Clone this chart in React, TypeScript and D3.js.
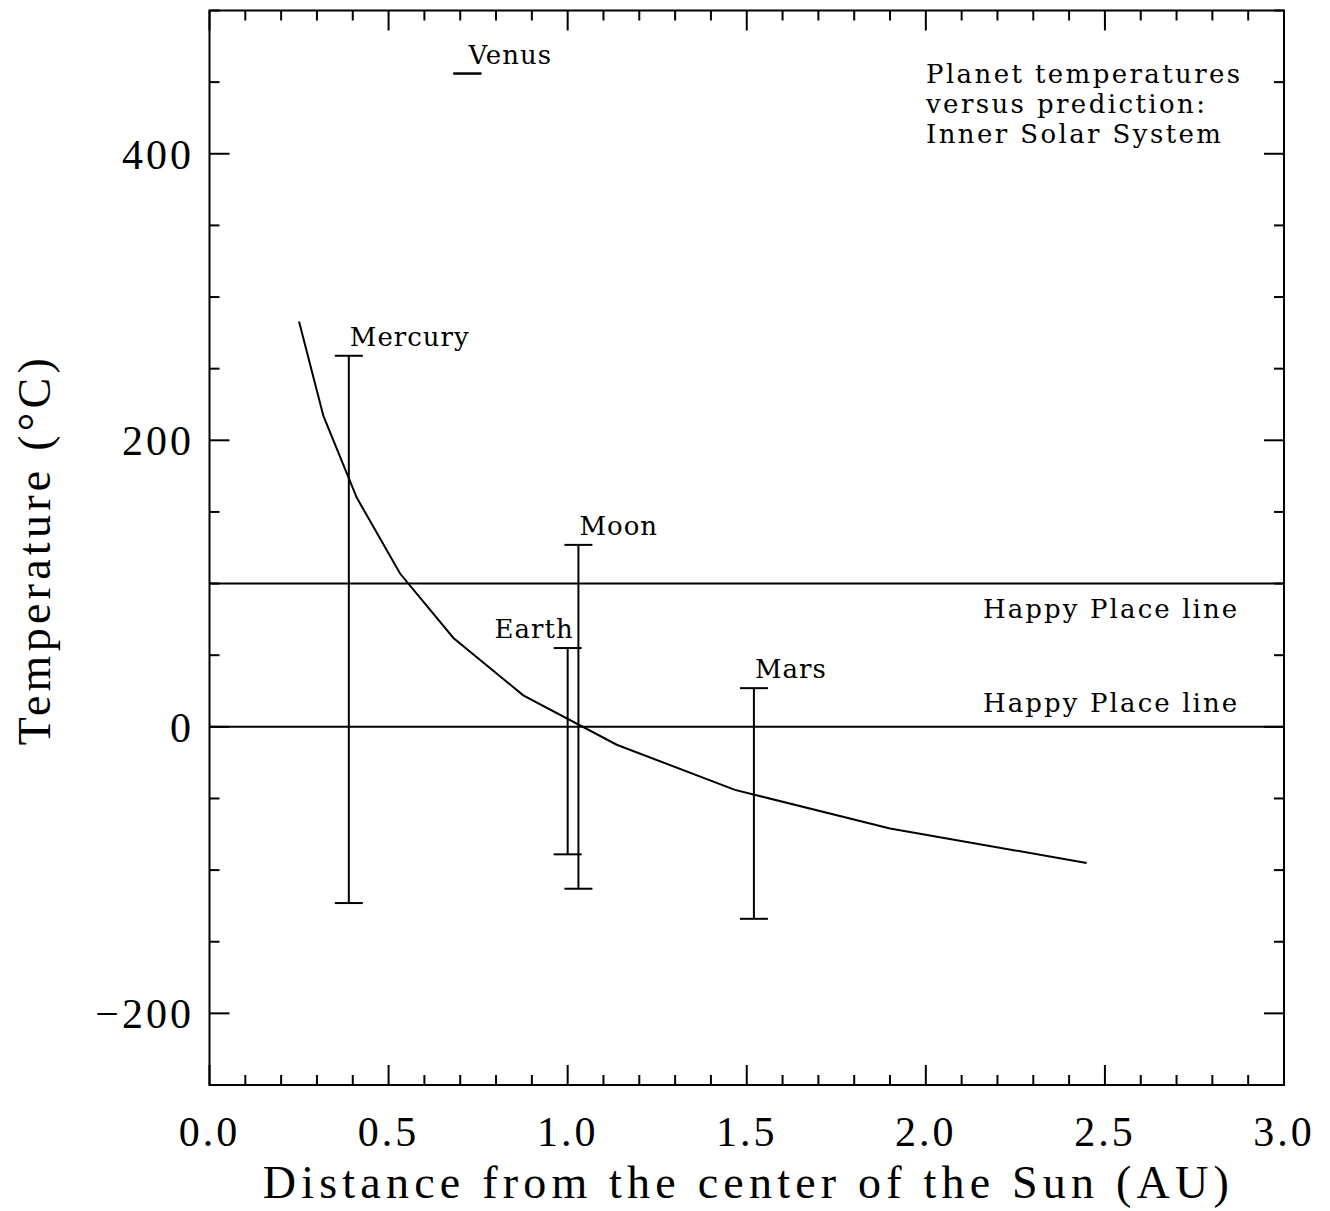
import React, { useEffect, useRef } from 'react';
import * as d3 from 'd3';

// predicted temperature curve (AU, °C)
const modelDistance = [0.25, 0.318, 0.411, 0.532, 0.681, 0.876, 1.137, 1.467, 1.9, 2.449];
const modelTemp = [283, 217, 160, 107, 62, 22, -12.5, -44, -71, -95];

// measured ranges for each body
const bodyNames = ['Mercury', 'Venus', 'Earth', 'Moon', 'Mars'];
const bodyDistance = [0.389, 0.72, 1.0, 1.03, 1.52];
const bodyTempMax = [259, 456, 55, 127, 27];
const bodyTempMin = [-123, 456, -89, -113, -134];

const happyLines = [100, 0];
const happyLabel = 'Happy Place line';
const xTicks = [0, 0.5, 1, 1.5, 2, 2.5, 3];
const yTicks = [-200, 0, 200, 400];
const titleLines = ['Planet temperatures', 'versus prediction:', 'Inner Solar System'];

const W = 1330;
const H = 1211;
const left = 209.5, right = 1284, top = 10.5, bottom = 1085;
const labelFont = '"DejaVu Serif", serif';
const axisFont = '"Liberation Serif", "DejaVu Serif", serif';

const App = () => {
  const svgRef: any = useRef();

  useEffect(() => {
    const svg = d3.select(svgRef.current);
    svg.selectAll('*').remove();

    const x = d3.scaleLinear().domain([0, 3]).range([left, right]);
    const y = d3.scaleLinear().domain([-250, 500]).range([bottom, top]);

    const g = svg.append('g');

    // frame
    g.append('rect')
      .attr('x', left).attr('y', top)
      .attr('width', right - left).attr('height', bottom - top)
      .attr('fill', 'none').attr('stroke', 'black').attr('stroke-width', 2);

    // ticks on all four sides
    const xMinor = d3.range(0, 30).map((d) => d / 10);
    xMinor.forEach((v) => {
      const major = Math.abs(v * 2 - Math.round(v * 2)) < 1e-6;
      const len = major ? 20 : 10;
      g.append('line').attr('x1', x(v)).attr('x2', x(v)).attr('y1', bottom).attr('y2', bottom - len)
        .attr('stroke', 'black').attr('stroke-width', 2);
      g.append('line').attr('x1', x(v)).attr('x2', x(v)).attr('y1', top).attr('y2', top + len)
        .attr('stroke', 'black').attr('stroke-width', 2);
    });
    const yMinor = d3.range(-250, 501, 50);
    yMinor.forEach((v) => {
      const len = v % 200 === 0 ? 20 : 10;
      g.append('line').attr('x1', left).attr('x2', left + len).attr('y1', y(v)).attr('y2', y(v))
        .attr('stroke', 'black').attr('stroke-width', 2);
      g.append('line').attr('x1', right).attr('x2', right - len).attr('y1', y(v)).attr('y2', y(v))
        .attr('stroke', 'black').attr('stroke-width', 2);
    });

    // tick labels
    g.selectAll('.xt').data(xTicks).enter().append('text')
      .attr('x', (d) => x(d)).attr('y', 1146)
      .attr('text-anchor', 'middle')
      .attr('font-family', axisFont).attr('font-size', 42).attr('letter-spacing', 3)
      .text((d) => d.toFixed(1));
    g.selectAll('.yt').data(yTicks).enter().append('text')
      .attr('x', 194).attr('y', (d) => y(d) + 15)
      .attr('text-anchor', 'end')
      .attr('font-family', axisFont).attr('font-size', 42).attr('letter-spacing', 3)
      .text((d) => (d < 0 ? '\u2212' + Math.abs(d) : String(d)));

    // axis titles
    g.append('text')
      .attr('x', (left + right) / 2 - 1).attr('y', 1198)
      .attr('text-anchor', 'middle')
      .attr('font-family', axisFont).attr('font-size', 46)
      .attr('textLength', 966).attr('lengthAdjust', 'spacing')
      .text('Distance from the center of the Sun (AU)');
    g.append('text')
      .attr('transform', `translate(50, ${(top + bottom) / 2 + 4}) rotate(-90)`)
      .attr('text-anchor', 'middle')
      .attr('font-family', axisFont).attr('font-size', 46)
      .attr('textLength', 387).attr('lengthAdjust', 'spacing')
      .text('Temperature (°C)');

    // happy place lines: upper label sits below its line, lower label above its line
    happyLines.forEach((v, i) => {
      g.append('line').attr('x1', left).attr('x2', right).attr('y1', y(v)).attr('y2', y(v))
        .attr('stroke', 'black').attr('stroke-width', 2);
      g.append('text')
        .attr('x', 983).attr('y', i === 0 ? y(v) + 34 : y(v) - 15)
        .attr('font-family', labelFont).attr('font-size', 26).attr('letter-spacing', 2.1)
        .text(happyLabel);
    });

    // model curve
    const line = d3.line<number>()
      .x((_, i) => x(modelDistance[i]))
      .y((d) => y(d));
    g.append('path')
      .attr('d', line(modelTemp))
      .attr('fill', 'none').attr('stroke', 'black').attr('stroke-width', 2);

    // error bars
    const cap = 14;
    bodyNames.forEach((name, i) => {
      const bx = x(bodyDistance[i]);
      const y1 = y(bodyTempMax[i]);
      const y2 = y(bodyTempMin[i]);
      g.append('line').attr('x1', bx).attr('x2', bx).attr('y1', y1).attr('y2', y2)
        .attr('stroke', 'black').attr('stroke-width', 2);
      g.append('line').attr('x1', bx - cap).attr('x2', bx + cap).attr('y1', y1).attr('y2', y1)
        .attr('stroke', 'black').attr('stroke-width', 2);
      g.append('line').attr('x1', bx - cap).attr('x2', bx + cap).attr('y1', y2).attr('y2', y2)
        .attr('stroke', 'black').attr('stroke-width', 2);
      const isEarth = name === 'Earth';
      g.append('text')
        .attr('x', isEarth ? bx + 6 : bx + 1)
        .attr('y', y1 - 10)
        .attr('text-anchor', isEarth ? 'end' : 'start')
        .attr('font-family', labelFont).attr('font-size', 26).attr('letter-spacing', 1)
        .text(name);
    });

    // title block
    titleLines.forEach((t, i) => {
      g.append('text')
        .attr('x', 926).attr('y', 83 + i * 30)
        .attr('font-family', labelFont).attr('font-size', 26).attr('letter-spacing', 2.4)
        .text(t);
    });
  }, []);

  return (
    <svg ref={svgRef} width={W} height={H}
      style={{ position: 'absolute', left: 0, top: 0, background: 'white' }} />
  );
};

export default App;
